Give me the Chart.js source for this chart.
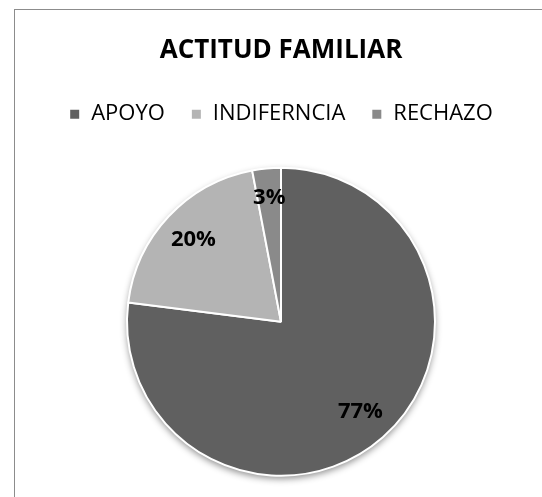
<!DOCTYPE html>
<html>
<head>
<meta charset="utf-8">
<script src="https://cdn.jsdelivr.net/npm/chart.js@4"></script>
<style>
  html, body { margin: 0; padding: 0; background: #fff; }
  #wrap { position: relative; width: 542px; height: 497px; overflow: hidden; }
  #frame { position: absolute; left: 14px; top: 9px; width: 600px; height: 600px; border: 1.5px solid #8c8c8c; box-sizing: border-box; }
  canvas { position: absolute; left: 0; top: 0; }
</style>
</head>
<body>
<div id="wrap">
  <div id="frame"></div>
  <canvas id="chart_actitud" width="542" height="497"></canvas>
</div>
<script>
var categorias = ['APOYO', 'INDIFERNCIA', 'RECHAZO'];
var porcentajes = [77, 20, 3];
var etiquetas = ['77%', '20%', '3%'];
var colores = ['#606060', '#b4b4b4', '#8a8a8a'];

var fuente = '"Open Sans", Lato, sans-serif';

// sombra bajo el pastel y etiquetas dentro de cada porcion
var pieExtras = {
    id: 'pieExtras',
    beforeDatasetsDraw: function(chart) {
        var arc = chart.getDatasetMeta(0).data[0];
        if (!arc) return;
        var ctx = chart.ctx;
        ctx.save();
        ctx.shadowColor = 'rgba(0,0,0,0.45)';
        ctx.shadowBlur = 7;
        ctx.shadowOffsetY = 3;
        ctx.fillStyle = '#fff';
        ctx.beginPath();
        ctx.arc(arc.x, arc.y, arc.outerRadius, 0, Math.PI * 2);
        ctx.fill();
        ctx.restore();
    },
    afterDatasetsDraw: function(chart) {
        var ctx = chart.ctx;
        ctx.save();
        ctx.font = 'bold 22px ' + fuente;
        ctx.fillStyle = '#000';
        ctx.textAlign = 'center';
        ctx.textBaseline = 'middle';
        chart.getDatasetMeta(0).data.forEach(function(a, i) {
            var mid = (a.startAngle + a.endAngle) / 2;
            var r = a.outerRadius * (i == 2 ? 0.81 : 0.78);
            ctx.fillText(etiquetas[i], a.x + Math.cos(mid) * r, a.y + Math.sin(mid) * r);
        });
        ctx.restore();
    }
};

window.onload = function() {
    var ctx = document.getElementById('chart_actitud');
    window.myPie = new Chart(ctx, {
        type: 'pie',
        data: {
            labels: categorias,
            datasets: [{
                data: porcentajes,
                backgroundColor: colores,
                borderColor: '#ffffff',
                borderWidth: 2,
                radius: 154
            }]
        },
        plugins: [pieExtras],
        options: {
            responsive: false,
            animation: false,
            layout: {
                padding: { left: 20, right: 0, top: 0, bottom: 0 }
            },
            plugins: {
                title: {
                    display: true,
                    text: 'ACTITUD FAMILIAR',
                    color: '#000',
                    font: { family: fuente, size: 26, weight: 'bold' },
                    padding: { top: 35, bottom: 11 }
                },
                // empty subtitle below the legend, only used as a spacer
                subtitle: {
                    display: true,
                    text: '',
                    weight: 500,
                    font: { size: 1 },
                    padding: { top: 0, bottom: 10 }
                },
                legend: {
                    position: 'top',
                    labels: {
                        color: '#000',
                        boxWidth: 11,
                        boxHeight: 11,
                        padding: 26,
                        font: { family: fuente, size: 22 }
                    }
                },
                tooltip: { enabled: false }
            }
        }
    });
};
</script>
</body>
</html>
